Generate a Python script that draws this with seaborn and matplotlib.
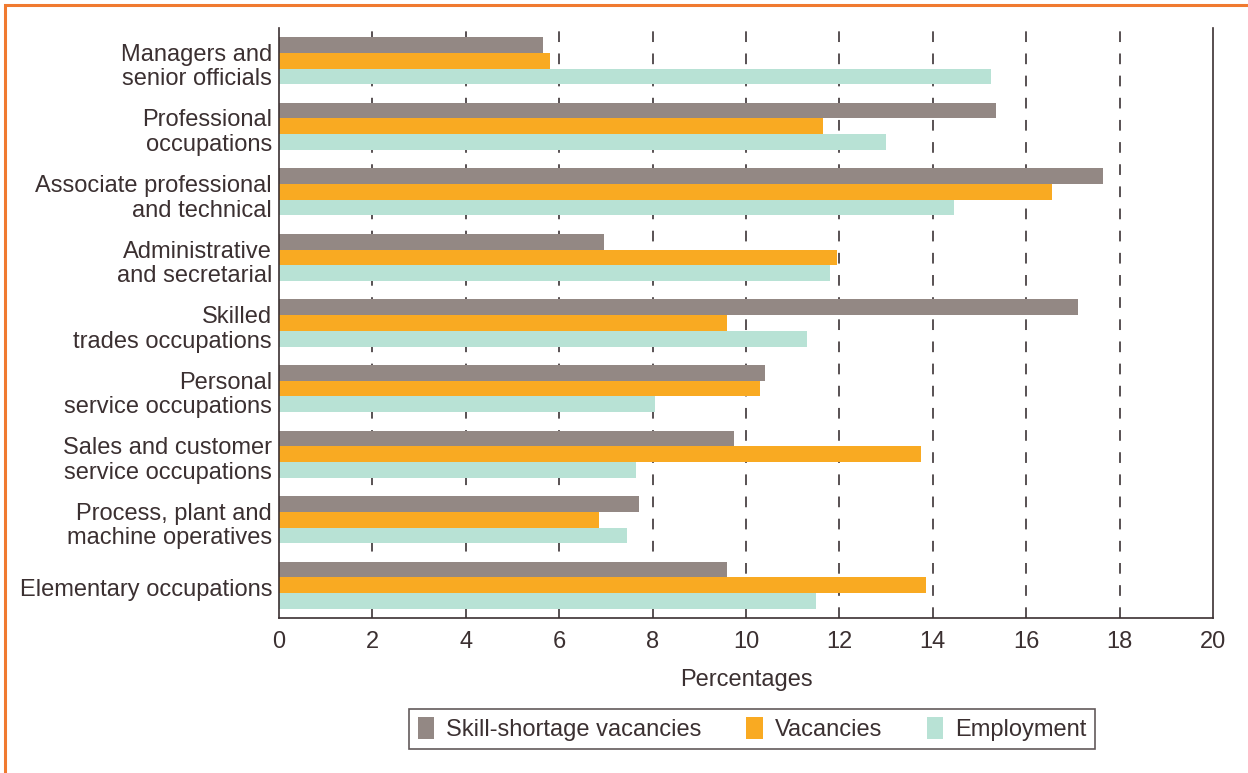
import pandas as pd
import matplotlib.pyplot as plt
import seaborn as sns
from matplotlib.patches import Rectangle

occupations = [
    "Managers and\nsenior officials",
    "Professional\noccupations",
    "Associate professional\nand technical",
    "Administrative\nand secretarial",
    "Skilled\ntrades occupations",
    "Personal\nservice occupations",
    "Sales and customer\nservice occupations",
    "Process, plant and\nmachine operatives",
    "Elementary occupations",
]
skill_shortage = [5.65, 15.35, 17.65, 6.95, 17.1, 10.4, 9.75, 7.7, 9.6]
vacancies = [5.8, 11.65, 16.55, 11.95, 9.6, 10.3, 13.75, 6.85, 13.85]
employment = [15.25, 13.0, 14.45, 11.8, 11.3, 8.05, 7.65, 7.45, 11.5]
series = ["Skill-shortage vacancies", "Vacancies", "Employment"]
colors = ["#938884", "#f9aa22", "#b8e2d5"]

df = pd.DataFrame({
    "Occupation": occupations * 3,
    "Series": [s for s in series for _ in occupations],
    "Value": skill_shortage + vacancies + employment,
})

sns.set_style("white")
plt.rcParams["font.family"] = ["Liberation Sans", "DejaVu Sans"]
text_col = "#3b3031"
fs = 17

fig = plt.figure(figsize=(12.48, 7.73), dpi=100)
ax = fig.add_axes([279 / 1248, 1 - 618 / 773, (1213 - 279) / 1248, (618 - 28) / 773])

sns.barplot(data=df, y="Occupation", x="Value", hue="Series", orient="h",
            palette=colors, width=0.72, saturation=1, linewidth=0, ax=ax, legend=True)

ax.set_xlim(0, 20)
ax.set_ylim(len(occupations) - 0.5, -0.5)
ax.set_xticks(range(0, 21, 2))
ax.tick_params(axis="x", labelsize=fs, colors=text_col, direction="inout", length=10, width=1.2, pad=4)
# boundary ticks between groups, labels at group centres
ax.set_yticks([i - 0.5 for i in range(len(occupations) + 1)], minor=False)
ax.set_yticklabels([])
ax.set_yticks([i + 0.04 for i in range(len(occupations))], minor=True)
ax.set_yticklabels(occupations, minor=True, fontsize=fs, color=text_col, linespacing=1.15)
ax.tick_params(axis="y", which="major", direction="out", length=7, width=1.2, color=text_col)
ax.tick_params(axis="y", which="minor", length=0, pad=5)
for x in range(2, 20, 2):
    ax.axvline(x, color="#2b2224", lw=1.1, ls=(0, (7, 7.5)), zorder=0)

for side in ["left", "bottom", "right"]:
    ax.spines[side].set_color(text_col)
    ax.spines[side].set_linewidth(1.2)
ax.spines["top"].set_visible(False)

ax.set_ylabel("")
ax.set_xlabel("Percentages", fontsize=fs, color=text_col, labelpad=12)

ax.legend(loc="center", bbox_to_anchor=(752 / 1248, 1 - 729 / 773), bbox_transform=fig.transFigure,
          ncol=3, fontsize=fs, frameon=True, fancybox=False, edgecolor=text_col,
          handlelength=0.7, handleheight=1.05, handletextpad=0.5, columnspacing=1.9,
          borderpad=0.35, labelcolor=text_col)
ax.get_legend().get_frame().set_linewidth(1.2)

fig.patches.append(Rectangle((5 / 1248, -0.1), 1.2, 1 - 5 / 773 + 0.1, transform=fig.transFigure,
                             fill=False, edgecolor="#f07a30", lw=2.2, zorder=0))

fig.savefig("out.png", dpi=100)
